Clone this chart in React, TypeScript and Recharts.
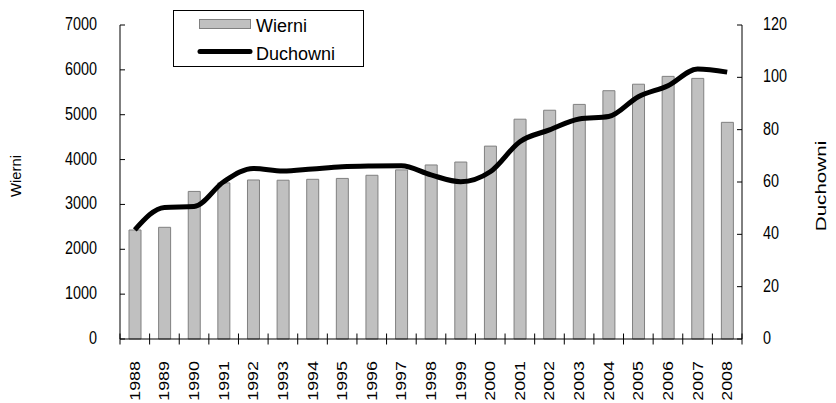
import React from 'react';
import { ComposedChart, Bar, Line, XAxis, YAxis, Legend } from 'recharts';

const years = ['1988','1989','1990','1991','1992','1993','1994','1995','1996','1997','1998','1999','2000','2001','2002','2003','2004','2005','2006','2007','2008'];
const wierni = [2430,2490,3290,3480,3545,3540,3560,3580,3650,3770,3880,3945,4300,4900,5100,5230,5535,5680,5855,5810,4830];
const duchowni = [41.7,50.3,50.6,60.1,65.2,64.2,65.0,65.8,66.1,66.2,62.7,60.1,63.9,75.4,79.9,84.1,85.0,92.6,96.8,103.2,102.0];
const leftTicks = [0,1000,2000,3000,4000,5000,6000,7000];
const rightTicks = [0,20,40,60,80,100,120];

const data = years.map((y, i) => ({ year: y, Wierni: wierni[i], Duchowni: duchowni[i] }));

const FONT = '"Liberation Sans", Arial, sans-serif';
const PLOT_LEFT = 120;
const PLOT_RIGHT = 742;
const BAND = (PLOT_RIGHT - PLOT_LEFT) / years.length;
const STRETCH = 1.28;

const XTick = (props: any) => {
  const { x, y, payload } = props;
  const isLast = payload.value === years[years.length - 1];
  return (
    <g>
      <line x1={x - BAND / 2} x2={x - BAND / 2} y1={y - 5.5} y2={y + 5.5} stroke="#000" />
      {isLast && <line x1={x + BAND / 2} x2={x + BAND / 2} y1={y - 5.5} y2={y + 5.5} stroke="#000" />}
      <text transform={`translate(${x + 5}, ${y + 22}) scale(1, ${STRETCH}) rotate(-90)`} x={0} y={0} textAnchor="end" fontSize={14} fontFamily={FONT} fill="#000">
        {payload.value}
      </text>
    </g>
  );
};

const LeftTick = (props: any) => {
  const { x, y, payload } = props;
  return (
    <g>
      <line x1={PLOT_LEFT} x2={PLOT_LEFT + 5} y1={y} y2={y} stroke="#000" />
      <text transform={`translate(${x}, ${y + 5}) scale(1, ${STRETCH})`} x={0} y={0} textAnchor="end" fontSize={14.4} fontFamily={FONT} fill="#000">{payload.value}</text>
    </g>
  );
};

const RightTick = (props: any) => {
  const { x, y, payload } = props;
  return (
    <g>
      <line x1={PLOT_RIGHT - 5} x2={PLOT_RIGHT} y1={y} y2={y} stroke="#000" />
      <text transform={`translate(${x}, ${y + 5}) scale(1, ${STRETCH})`} x={0} y={0} textAnchor="start" fontSize={14.4} fontFamily={FONT} fill="#000">{payload.value}</text>
    </g>
  );
};

const LeftLabel = () => (
  <text transform={`translate(21, 176) scale(1, 1.06) rotate(-90)`} x={0} y={0} textAnchor="middle" fontSize={14} fontFamily={FONT} fill="#000">Wierni</text>
);

const RightLabel = () => (
  <text transform={`translate(826, 186) scale(1, 1.33) rotate(-90)`} x={0} y={0} textAnchor="middle" fontSize={15.5} fontFamily={FONT} fill="#000">Duchowni</text>
);

const LegendBox = () => (
  <svg width={191} height={57} style={{ display: 'block' }}>
    <rect x={0.5} y={0.5} width={190} height={56} fill="#fff" stroke="#000" strokeWidth={1} />
    <rect x={26.5} y={9.5} width={51} height={9} fill="#c0c0c0" stroke="#808080" strokeWidth={1} />
    <text x={83} y={21.5} fontSize={18} fontFamily={FONT} fill="#000">Wierni</text>
    <line x1={27} x2={77} y1={41.5} y2={41.5} stroke="#000" strokeWidth={5} strokeLinecap="round" />
    <text x={83} y={49.5} fontSize={18} fontFamily={FONT} fill="#000">Duchowni</text>
  </svg>
);

export default function App() {
  return (
    <div style={{ position: 'absolute', left: 0, top: 0, width: 836, height: 403, background: '#fff' }}>
      <ComposedChart width={836} height={403} data={data} margin={{ top: 25, right: 0, left: 0, bottom: 0 }} barCategoryGap={0}>
        <XAxis xAxisId="x" dataKey="year" height={64} tick={<XTick />} tickLine={false} tickSize={0} tickMargin={0} interval={0} stroke="#000" />
        <YAxis yAxisId="left" orientation="left" width={120} domain={[0, 7000]} ticks={leftTicks} tick={<LeftTick />} tickLine={false} tickSize={0} tickMargin={23} stroke="#000" interval={0}
          label={<LeftLabel />} />
        <YAxis yAxisId="right" orientation="right" width={94} domain={[0, 120]} ticks={rightTicks} tick={<RightTick />} tickLine={false} tickSize={0} tickMargin={21} stroke="#000" interval={0}
          label={<RightLabel />} />
        <Legend content={<LegendBox />} layout="vertical" verticalAlign="middle" align="center" wrapperStyle={{ left: 173, top: 10, width: 191, height: 57 }} />
        <Bar xAxisId="x" yAxisId="left" dataKey="Wierni" barSize={12} fill="#c0c0c0" stroke="#808080" strokeWidth={1} isAnimationActive={false} />
        <Line xAxisId="x" yAxisId="right" dataKey="Duchowni" type="monotone" stroke="#000" strokeWidth={5} dot={false} isAnimationActive={false} />
      </ComposedChart>
    </div>
  );
}
